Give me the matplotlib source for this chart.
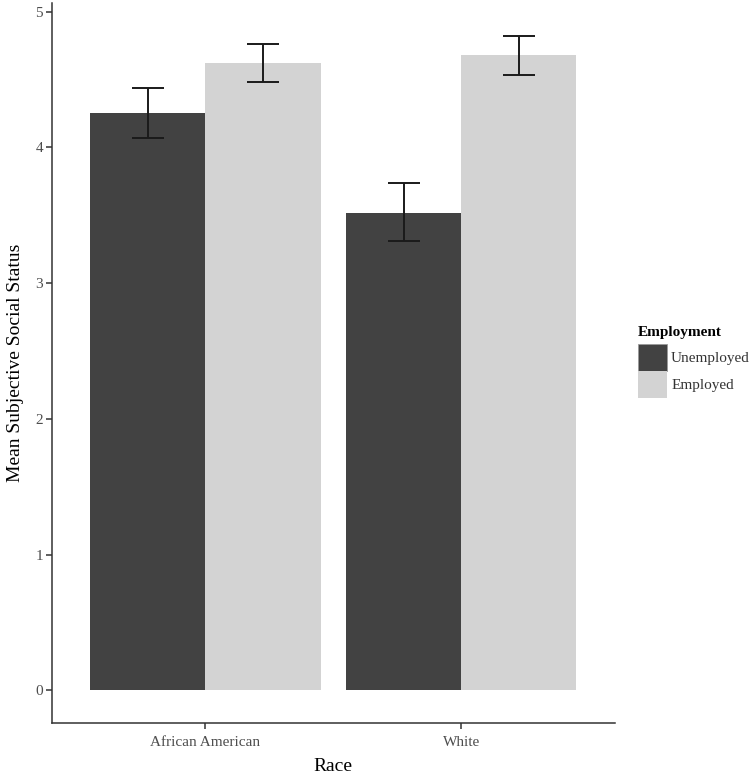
import numpy as np
import matplotlib
matplotlib.use("Agg")
import matplotlib.pyplot as plt
from matplotlib.patches import Patch

plt.rcParams['font.family'] = ['Liberation Serif', 'DejaVu Serif']

races = ["African American", "White"]
groups = ["Unemployed", "Employed"]
means = {"Unemployed": [4.25, 3.52], "Employed": [4.62, 4.68]}
err_lo = {"Unemployed": [4.07, 3.31], "Employed": [4.48, 4.53]}
err_hi = {"Unemployed": [4.44, 3.74], "Employed": [4.76, 4.82]}
colors = {"Unemployed": "#424242", "Employed": "#d3d3d3"}

fig = plt.figure(figsize=(7.5, 7.77), dpi=100)
ax = fig.add_axes([0.0693, 0.0695, 0.8195 - 0.0693, 0.9956 - 0.0695])

x = np.arange(1, len(races) + 1)
w = 0.45
for i, g in enumerate(groups):
    pos = x + (i - 0.5) * w
    ax.bar(pos, means[g], width=w, color=colors[g], edgecolor="none", zorder=2)
    m = np.array(means[g])
    yerr = [m - np.array(err_lo[g]), np.array(err_hi[g]) - m]
    ax.errorbar(pos, m, yerr=yerr, fmt="none", ecolor="#1a1a1a", elinewidth=1.4,
                capsize=11.5, capthick=1.4, zorder=3)

# ggplot-style 5% expansion
top = max(max(v) for v in err_hi.values())
pad = 0.05 * top
ax.set_ylim(-pad, top + pad)
ax.set_xlim(0.4, 2.6)
ax.set_xticks(x)
ax.set_xticklabels(races)
ax.set_yticks(range(0, 6))

for s in ["top", "right"]:
    ax.spines[s].set_visible(False)
for s in ["left", "bottom"]:
    ax.spines[s].set_color("#333333")
    ax.spines[s].set_linewidth(1.1)
ax.tick_params(axis="both", colors="#333333", labelcolor="#4d4d4d", labelsize=11,
               length=4, width=1.1)
ax.tick_params(axis="x", pad=5.5)
ax.tick_params(axis="y", pad=2.5)

ax.set_xlabel("Race", fontsize=14, labelpad=6.5)
ax.set_ylabel("Mean Subjective Social Status", fontsize=14, labelpad=8.5)

handles = [Patch(facecolor=colors[g], edgecolor="#9a9a9a" if g == "Unemployed" else "none",
                 linewidth=0.6) for g in groups]
leg = fig.legend(handles, groups, loc="upper left", bbox_to_anchor=(0.851, 0.581),
                 frameon=False, title="Employment",
                 title_fontproperties={"weight": "bold", "size": 11},
                 fontsize=11, handlelength=1.85, handleheight=2.34, labelspacing=0,
                 handletextpad=0.3, borderaxespad=0, borderpad=0, alignment="left")
leg._legend_box.sep = 4
for t in leg.get_texts():
    t.set_color("#333333")

fig.savefig("out.png", dpi=100)
